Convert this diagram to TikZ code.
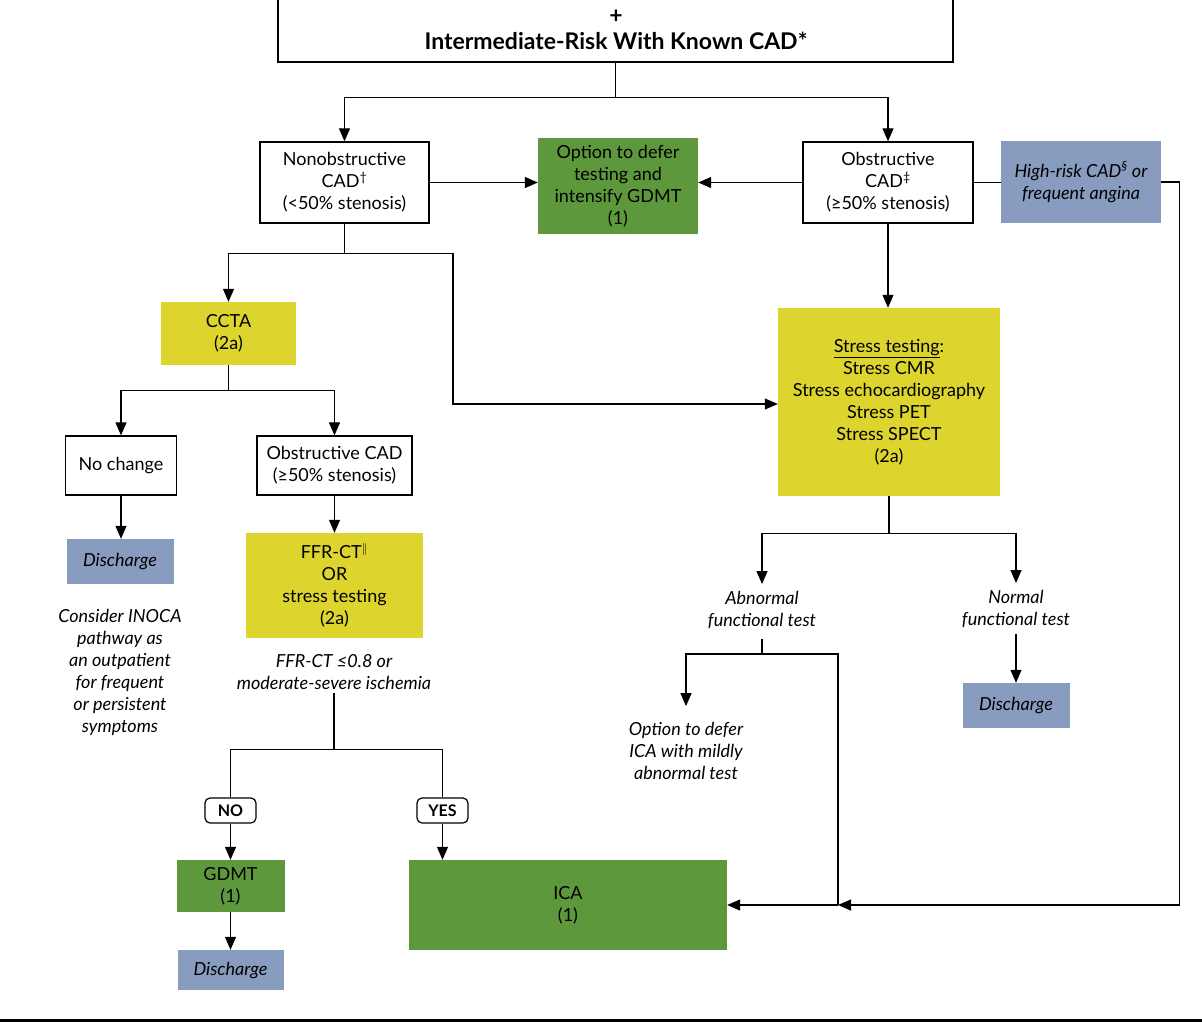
\documentclass[tikz,border=0pt]{standalone}
\usepackage{fontspec}
\setmainfont{Lato}
\usetikzlibrary{arrows.meta}
\definecolor{gr}{RGB}{94,152,60}
\definecolor{yl}{RGB}{221,212,46}
\definecolor{bl}{RGB}{135,156,191}
\begin{document}
\begin{tikzpicture}[x=1pt,y=-1pt,
  every node/.style={font=\fontsize{18}{22}\selectfont, align=center, inner sep=0pt},
  wbox/.style={draw=black, line width=1.3pt, fill=white},
  gbox/.style={fill=gr},
  ybox/.style={fill=yl},
  bbox/.style={fill=bl, font=\fontsize{18}{22}\selectfont\itshape},
  note/.style={font=\fontsize{18}{22}\selectfont\itshape},
  line/.style={line width=1.2pt},
  arr/.style={line width=1.2pt, -{Triangle[length=13pt,width=11pt]}},
  pill/.style={draw, rounded corners=5pt, line width=1.2pt, font=\fontsize{16}{18}\selectfont\bfseries, minimum width=51, minimum height=25}
]
\useasboundingbox (0,0) rectangle (1202,1028);
\fill[white] (0,0) rectangle (1202,1028);

% top box
\node[wbox, minimum width=675, minimum height=112] (top) at (615.5,6) {};
\node[font=\fontsize{23}{26}\selectfont\bfseries] (toptext) at (616,30) {+\\Intermediate-Risk With Known CAD*};

% first row
\node[wbox, minimum width=169, minimum height=81] (nonobs) at (344.5,182.5) {Nonobstructive\\CAD\textsuperscript{†}\\(<50\% stenosis)};
\node[gbox, minimum width=160, minimum height=96] (defer) at (618,186) {Option to defer\\testing and\\intensify GDMT\\(1)};
\node[wbox, minimum width=170, minimum height=81] (obs) at (888,182.5) {Obstructive\\CAD\textsuperscript{‡}\\(≥50\% stenosis)};
\node[bbox, minimum width=160, minimum height=82] (hr) at (1081,182) {High-risk CAD\textsuperscript{§} or\\frequent angina};

% left branch
\node[ybox, minimum width=135, minimum height=63] (ccta) at (228.5,333.5) {CCTA\\(2a)};
\node[wbox, minimum width=111, minimum height=59] (nochg) at (121,465.5) {No change};
\node[wbox, minimum width=155, minimum height=59] (obscad) at (334.5,465.5) {Obstructive CAD\\(≥50\% stenosis)};
\node[bbox, minimum width=107, minimum height=45] (disc1) at (120,561.5) {Discharge};
\node[note] (inoca) at (120,672) {Consider INOCA\\pathway as\\an outpatient\\for frequent\\or persistent\\symptoms};
\node[ybox, minimum width=177, minimum height=105] (ffr) at (334.5,585.5) {FFR-CT\textsuperscript{$\|$}\\OR\\stress testing\\(2a)};
\node[note] (ffrnote) at (334,672.5) {FFR-CT ≤0.8 or\\moderate-severe ischemia};
\node[pill] (no) at (230.5,810.5) {NO};
\node[pill] (yes) at (442.5,810.5) {YES};
\node[gbox, minimum width=108, minimum height=52] (gdmt) at (230.5,886) {GDMT\\(1)};
\node[bbox, minimum width=106, minimum height=40] (disc2) at (230.5,970) {Discharge};
\node[gbox, minimum width=318, minimum height=90] (ica) at (568,905) {ICA\\(1)};

% right branch
\node[ybox, minimum width=222, minimum height=188] (stress) at (889,402) {\underline{Stress testing}:\\Stress CMR\\Stress echocardiography\\Stress PET\\Stress SPECT\\(2a)};
\node[note] (abn) at (762,610) {Abnormal\\functional test};
\node[note] (norm) at (1016,609) {Normal\\functional test};
\node[bbox, minimum width=107, minimum height=45] (disc3) at (1016,705.5) {Discharge};
\node[note] (defer2) at (686,751) {Option to defer\\ICA with mildly\\abnormal test};

\coordinate (k1) at (453,404);
\coordinate (j6) at (838,905);

% connectors
\draw[line] (top.south) -- ++(0,35) coordinate (j0);
\draw[arr] (j0) -| (nonobs.north);
\draw[arr] (j0) -| (obs.north);
\draw[arr] (nonobs.east) -- (nonobs.east -| defer.west);
\draw[arr] (obs.west) -- (obs.west -| defer.east);
\draw[line] (obs.east) -- (obs.east -| hr.west);
\draw[arr] (hr.east) -- ++(18,0) |- (j6);

\draw[line] (nonobs.south) -- ++(0,30) coordinate (j1);
\draw[arr] (j1) -| (ccta.north);
\draw[arr] (j1) -| (k1) -- (k1 -| stress.west);
\draw[line] (ccta.south) -- ++(0,25) coordinate (j3);
\draw[arr] (j3) -| (nochg.north);
\draw[arr] (j3) -| (obscad.north);
\draw[arr] (nochg.south) -- (nochg.south |- disc1.north);
\draw[arr] (obscad.south) -- (ffr.north);
\draw[line] ([yshift=-3pt]ffrnote.south) -- ++(0,56) coordinate (j7);
\draw[line] (j7) -| (no.north);
\draw[line] (j7) -| (yes.north);
\draw[arr] (no.south) -- (gdmt.north);
\draw[arr] (yes.south) -- (yes.south |- ica.north);
\draw[arr] (gdmt.south) -- (disc2.north);

\draw[arr] (obs.south) -- (obs.south |- stress.north);
\draw[line] (stress.south) -- ++(0,37) coordinate (j4);
\draw[arr] (j4) -| ([yshift=7pt]abn.north);
\draw[arr] (j4) -| ([yshift=7pt]norm.north);
\draw[arr] ([yshift=-6pt]norm.south) -- (disc3.north);
\draw[line] ([yshift=-10pt]abn.south) -- ++(0,15) coordinate (j5);
\draw[arr] (j5) -| ([yshift=16pt]defer2.north);
\draw[line] (j5) -| (j6);
\draw[arr] (j6) -- (j6 -| ica.east);

\draw[line width=3pt] (0,1020) -- (1202,1020);
\end{tikzpicture}
\end{document}
